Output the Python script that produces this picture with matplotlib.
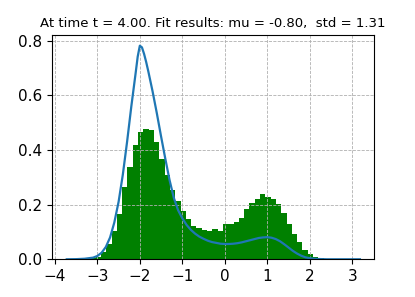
import matplotlib
matplotlib.use("Agg")
import matplotlib.pyplot as plt
import numpy as np

# histogram: left edge of first bin, bin width, heights (density)
bin_start = -3.164
bin_width = 0.1248
heights = [0.003, 0.010, 0.028, 0.055, 0.104, 0.165, 0.263, 0.338,
           0.420, 0.467, 0.478, 0.472, 0.430, 0.367, 0.310, 0.255,
           0.214, 0.175, 0.147, 0.121, 0.114, 0.109, 0.105, 0.110,
           0.105, 0.130, 0.130, 0.135, 0.150, 0.184, 0.205, 0.221,
           0.240, 0.227, 0.221, 0.203, 0.171, 0.129, 0.094, 0.063,
           0.033, 0.018, 0.008, 0.003, 0.001]

# fitted density curve
curve_x = [-3.72, -3.5, -3.3, -3.1, -3.0, -2.9, -2.8, -2.7, -2.6, -2.5,
           -2.4, -2.3, -2.2, -2.1, -2.05, -2.0, -1.95, -1.9, -1.85, -1.8, -1.7,
           -1.6, -1.5, -1.4, -1.3, -1.2, -1.1, -1.0, -0.9, -0.8, -0.7,
           -0.6, -0.5, -0.4, -0.3, -0.2, -0.1, 0.0, 0.1, 0.2, 0.3,
           0.4, 0.5, 0.6, 0.7, 0.8, 0.9, 1.0, 1.1, 1.2, 1.3,
           1.4, 1.5, 1.6, 1.7, 1.8, 1.9, 2.0, 2.1, 2.2, 2.4, 3.18]
curve_y = [0.0, 0.0005, 0.002, 0.006, 0.012, 0.024, 0.045, 0.080, 0.135, 0.210,
           0.310, 0.430, 0.560, 0.680, 0.742, 0.782, 0.776, 0.752, 0.722, 0.688, 0.615,
           0.535, 0.450, 0.368, 0.290, 0.225, 0.180, 0.150, 0.126, 0.108, 0.094,
           0.083, 0.075, 0.068, 0.063, 0.060, 0.057, 0.056, 0.056, 0.057, 0.059,
           0.062, 0.066, 0.070, 0.074, 0.078, 0.080, 0.081, 0.079, 0.074, 0.066,
           0.055, 0.043, 0.031, 0.021, 0.013, 0.007, 0.004, 0.002, 0.001, 0.0, 0.0]

xticks = [-4, -3, -2, -1, 0, 1, 2, 3]
yticks = [0.0, 0.2, 0.4, 0.6, 0.8]

t = 4.00
mu = -0.80
std = 1.31

edges = bin_start + bin_width * np.arange(len(heights) + 1)
centers = 0.5 * (edges[:-1] + edges[1:])

fig = plt.figure(figsize=(4.15, 2.97), dpi=100)
ax = fig.add_axes([0.125, 0.127, 0.775, 0.755])
ax.hist(centers, bins=edges, weights=heights, color='green')
ax.plot(curve_x, curve_y, color='C0', lw=1.6)
ax.grid(True, linestyle='--', color='#b0b0b0', lw=0.6)
ax.set_xlim(-4.07, 3.5)
ax.set_xticks(xticks)
ax.set_yticks(yticks)
ax.tick_params(labelsize=11)
ax.set_title('At time t = %.2f. Fit results: mu = %.2f,  std = %.2f' % (t, mu, std), fontsize=9.5)

fig.savefig('out.png', dpi=100)
